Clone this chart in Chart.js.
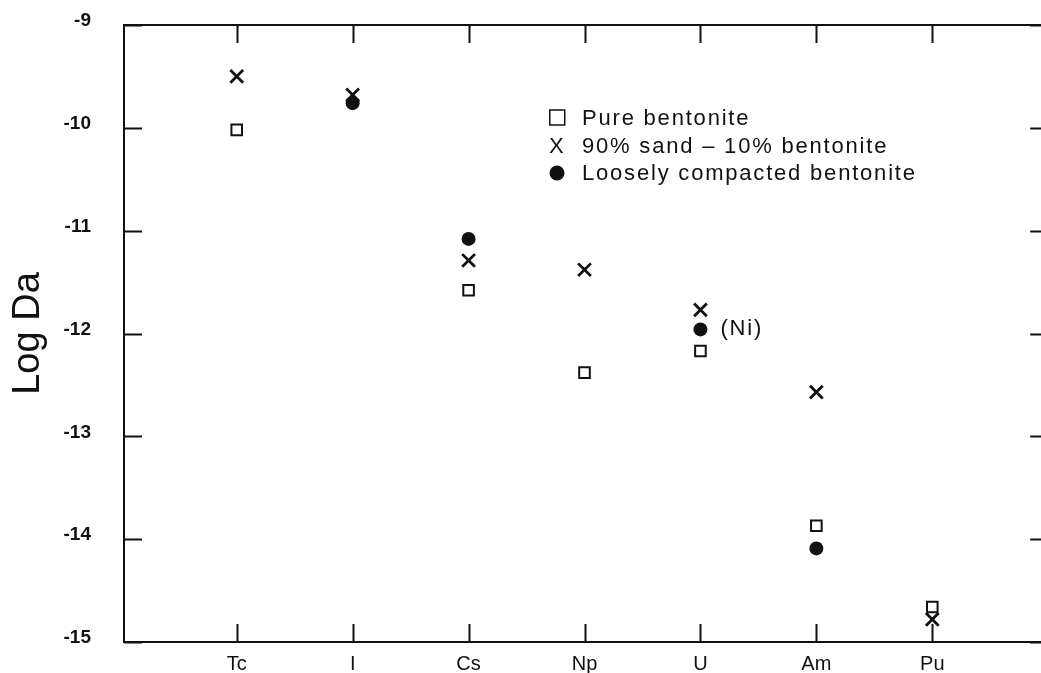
<!DOCTYPE html>
<html><head><meta charset="utf-8">
<script src="https://cdn.jsdelivr.net/npm/chart.js@4.4.1/dist/chart.umd.min.js"></script>
<style>
html,body{margin:0;padding:0;background:#fff;overflow:hidden;width:1041px;height:673px}
#wrap{position:relative;width:1060px;height:673px}
</style></head>
<body><div id="wrap"><canvas id="c" width="1060" height="673"></canvas></div>
<script>
const categories = ['Tc', 'I', 'Cs', 'Np', 'U', 'Am', 'Pu'];
const pureBentonite  = [-10.02, null, -11.58, -12.38, -12.17, -13.87, -14.66];
const sandBentonite  = [-9.50, -9.68, -11.29, -11.38, -11.77, -12.57, -14.78];
const looseBentonite = [null, -9.76, -11.08, null, -11.96, -14.09, null];
const yTicks = [-9, -10, -11, -12, -13, -14, -15];
const legendLabels = ['Pure bentonite', '90% sand \u2013 10% bentonite', 'Loosely compacted bentonite'];
const annotationText = '(Ni)';
const annotationCategory = 'U';
const annotationValue = -11.96;
const yTitle = 'Log Da';

const INK = '#111';
function toPoints(arr) {
  return arr.map((v, i) => v === null ? null : { x: i, y: v }).filter(p => p);
}

const framePlugin = {
  id: 'frame',
  afterDraw(chart) {
    const { ctx, chartArea: a, scales: { x, y } } = chart;
    ctx.save();
    ctx.strokeStyle = INK;
    ctx.lineWidth = 2;
    ctx.strokeRect(a.left, a.top, a.right - a.left, a.bottom - a.top);
    ctx.beginPath();
    yTicks.forEach(v => {
      const py = Math.round(y.getPixelForValue(v)) + 0.5;
      ctx.moveTo(a.left, py); ctx.lineTo(a.left + 18, py);
      ctx.moveTo(a.right - 18, py); ctx.lineTo(a.right, py);
    });
    categories.forEach((c, i) => {
      const px = Math.round(x.getPixelForValue(i)) + 0.5;
      ctx.moveTo(px, a.top); ctx.lineTo(px, a.top + 18);
      ctx.moveTo(px, a.bottom); ctx.lineTo(px, a.bottom - 18);
    });
    ctx.stroke();

    // legend
    ctx.fillStyle = INK;
    ctx.font = '22px "Liberation Sans", Arial, sans-serif';
    try { ctx.letterSpacing = '1.8px'; } catch (e) {}
    ctx.textBaseline = 'alphabetic';
    ctx.textAlign = 'left';
    const gx = 549, tx = 582, rows = [125, 153, 180];
    ctx.lineWidth = 1.5;
    ctx.strokeRect(gx + 0.75, rows[0] - 15, 15, 15);
    ctx.fillText('X', gx, rows[1]);
    ctx.beginPath();
    ctx.arc(gx + 8, rows[2] - 7, 7.5, 0, Math.PI * 2);
    ctx.fill();
    legendLabels.forEach((t, i) => ctx.fillText(t, tx, rows[i]));

    // annotation
    const ax = x.getPixelForValue(categories.indexOf(annotationCategory)) + 20;
    const ay = y.getPixelForValue(annotationValue);
    ctx.textBaseline = 'middle';
    ctx.fillText(annotationText, ax, ay);
    ctx.restore();
  }
};

new Chart(document.getElementById('c'), {
  type: 'scatter',
  data: {
    datasets: [
      { label: legendLabels[2], data: toPoints(looseBentonite), pointStyle: 'circle', pointRadius: 7,
        backgroundColor: INK, borderColor: INK, borderWidth: 0, order: 1 },
      { label: legendLabels[1], data: toPoints(sandBentonite), pointStyle: 'crossRot', pointRadius: 9,
        backgroundColor: INK, borderColor: INK, borderWidth: 2.8, order: 2 },
      { label: legendLabels[0], data: toPoints(pureBentonite), pointStyle: 'rect', pointRadius: 7.5,
        backgroundColor: '#fff', borderColor: INK, borderWidth: 2, order: 3 }
    ]
  },
  options: {
    responsive: false,
    devicePixelRatio: 1,
    animation: false,
    layout: { padding: { left: 0, top: 25, right: 10, bottom: 0 } },
    plugins: { legend: { display: false }, tooltip: { enabled: false } },
    scales: {
      x: {
        type: 'linear', min: -0.9725, max: 7.0,
        border: { display: false },
        grid: { display: false, drawTicks: false },
        afterBuildTicks(scale) { scale.ticks = categories.map((c, i) => ({ value: i })); },
        afterFit(scale) { scale.height = 31; scale.paddingLeft = 0; scale.paddingRight = 0; },
        ticks: {
          padding: 10, color: INK, autoSkip: false, maxRotation: 0,
          font: { family: '"Liberation Sans", Arial, sans-serif', size: 20 },
          callback: (v) => categories[v] ?? ''
        }
      },
      y: {
        type: 'linear', min: -15, max: -9,
        border: { display: false },
        grid: { display: false, drawTicks: false },
        afterBuildTicks(scale) { scale.ticks = yTicks.map(v => ({ value: v })); },
        afterFit(scale) { scale.width = 124; scale.paddingTop = 0; scale.paddingBottom = 0; },
        ticks: {
          padding: 33, color: INK, labelOffset: -4,
          font: { family: '"Liberation Sans Narrow", "Liberation Sans", Arial, sans-serif', size: 19, weight: 'bold' },
          callback: (v) => String(v)
        },
        title: {
          display: true, text: yTitle, color: INK, padding: { top: 6, bottom: 0 },
          font: { family: '"Liberation Sans", Arial, sans-serif', size: 38 }
        }
      }
    }
  },
  plugins: [framePlugin]
});
</script>
</body></html>
